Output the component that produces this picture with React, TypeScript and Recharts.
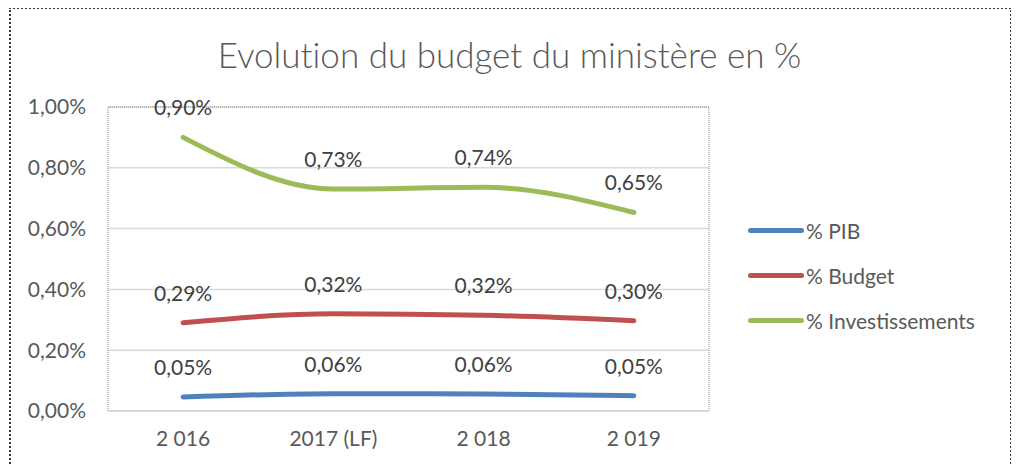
import { LineChart, Line, XAxis, YAxis, CartesianGrid, ReferenceArea, LabelList } from 'recharts'

const years = ['2 016', '2017 (LF)', '2 018', '2 019']
const pib = [0.046, 0.057, 0.056, 0.05]
const budget = [0.29, 0.32, 0.315, 0.297]
const investissements = [0.9, 0.73, 0.736, 0.653]
const yTicks = [0, 0.2, 0.4, 0.6, 0.8, 1]

const series = [
    { key: 'pib', name: '% PIB', color: '#4f81bd' },
    { key: 'budget', name: '% Budget', color: '#c0504d' },
    { key: 'inv', name: '% Investissements', color: '#9bbb59' },
]

const data = years.map((year, i) => ({
    idx: i,
    year,
    pib: pib[i],
    budget: budget[i],
    inv: investissements[i],
}))

const pct = (v: number) => v.toFixed(2).replace('.', ',') + '%'

const font = 'Lato, "Open Sans", sans-serif'
const dotted = '2px dotted #3a3a3a'

export default function App() {
    return (
        <div style={{ position: 'relative', width: 1019, height: 473, margin: -8, background: '#fff', fontFamily: font, overflow: 'hidden' }}>
            <div style={{ position: 'absolute', left: 0, top: 7, width: 1019, borderTop: dotted }} />
            <div style={{ position: 'absolute', left: 9, top: 7, height: 473, borderLeft: dotted }} />
            <div style={{ position: 'absolute', left: 1010, top: 7, height: 473, borderLeft: dotted }} />

            <div style={{ position: 'absolute', left: 0, top: 33, width: 1019, textAlign: 'center', fontSize: 35, fontWeight: 300, color: '#595959', fontVariantLigatures: 'none' }}>
                Evolution du budget du ministère en %
            </div>

            <div style={{ position: 'absolute', left: 0, top: 0 }}>
                <LineChart width={1019} height={473} data={data} margin={{ top: 107, right: 310, bottom: 2, left: 8 }}>
                    <CartesianGrid vertical={false} stroke="#d9d9d9" strokeWidth={1.5} />
                    <ReferenceArea y1={0} y2={1} x1={-0.5} x2={3.5} fill="none" stroke="#8c8c8c" strokeDasharray="1 1" ifOverflow="visible" />
                    <XAxis
                        dataKey="idx"
                        type="number"
                        domain={[-0.5, 3.5]}
                        ticks={[0, 1, 2, 3]}
                        tickFormatter={(i: number) => years[i]}
                        height={60}
                        tickLine={false}
                        tickSize={0}
                        tickMargin={20}
                        axisLine={{ stroke: '#d9d9d9', strokeWidth: 2 }}
                        tick={{ fill: '#595959', fontSize: 21, fontFamily: font }}
                    />
                    <YAxis
                        domain={[0, 1]}
                        ticks={yTicks}
                        width={100}
                        tickLine={false}
                        tickSize={0}
                        tickMargin={22}
                        axisLine={false}
                        tickFormatter={pct}
                        tick={{ fill: '#595959', fontSize: 21, fontFamily: font }}
                    />
                    {series.map((s) => (
                        <Line
                            key={s.key}
                            type="monotone"
                            dataKey={s.key}
                            name={s.name}
                            stroke={s.color}
                            strokeWidth={5}
                            strokeLinecap="round"
                            dot={false}
                            isAnimationActive={false}
                        >
                            <LabelList dataKey={s.key} position="top" offset={22} formatter={(v: number) => pct(v)} fill="#404040" fontSize={21} fontFamily={font} />
                        </Line>
                    ))}
                </LineChart>
            </div>

            <div style={{ position: 'absolute', left: 748, top: 215 }}>
                {series.map((s) => (
                    <div key={s.key} style={{ display: 'flex', alignItems: 'center', height: 30, marginBottom: 15 }}>
                        <span style={{ display: 'inline-block', width: 56, height: 5, borderRadius: 3, background: s.color }} />
                        <span style={{ marginLeft: 2, fontSize: 21, color: '#595959' }}>{s.name}</span>
                    </div>
                ))}
            </div>
        </div>
    )
}
